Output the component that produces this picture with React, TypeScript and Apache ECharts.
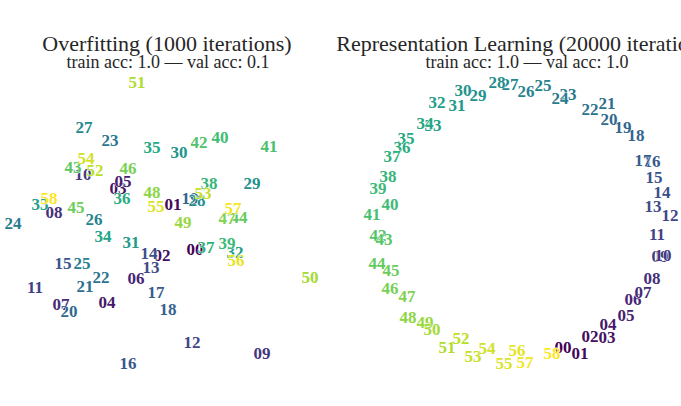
import React, { useEffect, useRef } from "react";
import * as echarts from "echarts";

// Left panel: overfitting embedding (label, x, y)
const leftLabels = ["00","01","02","03","04","05","06","07","08","09","10","11","12","13","14","15","16","17","18","19","20","21","22","23","24","25","26","27","28","29","30","31","32","33","34","35","36","37","38","39","40","41","42","43","44","45","46","47","48","49","50","51","52","53","54","55","56","57","58"];
const leftX = [195,173,162,118,107,123,136,61,54,262,83,35,192,151,149,63,128,156,168,190,69,85,101,110,13,82,94,84,197,252,179,131,235,40,103,152,122,206,209,227,220,269,199,73,239,76,128,227,152,183,310,137,95,203,86,156,236,233,49];
const leftY = [249,204,255,188,302,181,278,304,212,353,174,287,342,267,253,263,363,292,309,198,311,286,277,140,223,263,219,127,200,183,152,242,252,204,236,147,198,247,183,243,137,146,142,167,217,207,168,218,192,222,277,82,170,193,158,206,260,208,198];

// Right panel: representation learning embedding (label, x, y)
const rightX = [563,580,590,607,608,626,633,643,652,660,663,657,670,653,662,654,652,643,636,623,609,607,590,568,560,543,526,510,497,478,463,457,437,433,425,406,402,392,388,378,390,372,378,384,377,391,390,407,408,425,432,447,461,473,487,504,517,525,552];
const rightY = [347,353,336,337,324,315,299,292,278,256,255,234,215,206,192,177,161,160,135,127,119,103,109,94,98,85,91,84,82,95,90,105,102,125,123,138,147,156,176,188,204,214,235,239,263,270,288,296,317,322,329,347,338,356,348,363,350,362,353];

const titles = ["Overfitting (1000 iterations)", "Representation Learning (20000 iterations)"];
const subtitles = ["train acc: 1.0 \u2014 val acc: 0.1", "train acc: 1.0 \u2014 val acc: 1.0"];

const VIRIDIS = ["#440154","#482475","#414487","#355f8d","#2a788e","#21918c","#22a884","#44bf70","#7ad151","#bddf26","#fde725"];

function hex(c: string) {
  return [parseInt(c.slice(1, 3), 16), parseInt(c.slice(3, 5), 16), parseInt(c.slice(5, 7), 16)];
}
function viridis(t: number) {
  const p = Math.max(0, Math.min(1, t)) * (VIRIDIS.length - 1);
  const i = Math.min(Math.floor(p), VIRIDIS.length - 2);
  const f = p - i;
  const a = hex(VIRIDIS[i]);
  const b = hex(VIRIDIS[i + 1]);
  const r = a.map((v, k) => Math.round(v + (b[k] - v) * f));
  return `rgb(${r[0]},${r[1]},${r[2]})`;
}

function buildData(xs: number[], ys: number[]) {
  const n = leftLabels.length;
  return leftLabels.map((lab, i) => ({
    name: lab,
    value: [xs[i], ys[i]],
    label: { color: viridis(i / (n - 1)) },
  }));
}

export default function App() {
  const ref = useRef<HTMLDivElement>(null);
  useEffect(() => {
    if (!ref.current) return;
    const chart = echarts.init(ref.current, undefined, { renderer: "svg" });
    const labelStyle = {
      show: true,
      position: "inside",
      formatter: (p: any) => p.name,
      fontFamily: "Liberation Serif",
      fontWeight: "bold",
      fontSize: 17,
      opacity: 1,
      textBorderColor: "#ffffff",
      textBorderWidth: 0.8,
    };
    const axisCommon = { show: false, splitLine: { show: false } };
    chart.setOption({
      animation: false,
      backgroundColor: "#ffffff",
      grid: [
        { left: 0, top: 0, width: 340, height: 406 },
        { left: 340, top: 0, width: 341, height: 406 },
      ],
      xAxis: [
        { type: "value", gridIndex: 0, min: 0, max: 340, ...axisCommon },
        { type: "value", gridIndex: 1, min: 340, max: 681, ...axisCommon },
      ],
      yAxis: [
        { type: "value", gridIndex: 0, min: 0, max: 406, inverse: true, ...axisCommon },
        { type: "value", gridIndex: 1, min: 0, max: 406, inverse: true, ...axisCommon },
      ],
      graphic: [
        { type: "text", x: 167, y: 43, style: { text: titles[0], fill: "#262626", font: "22px 'Liberation Serif'", textAlign: "center", textVerticalAlign: "middle" } },
        { type: "text", x: 168, y: 62, style: { text: subtitles[0], fill: "#262626", font: "18px 'Liberation Serif'", textAlign: "center", textVerticalAlign: "middle" } },
        { type: "text", x: 526, y: 43, style: { text: titles[1], fill: "#262626", font: "22px 'Liberation Serif'", textAlign: "center", textVerticalAlign: "middle" } },
        { type: "text", x: 527, y: 62, style: { text: subtitles[1], fill: "#262626", font: "18px 'Liberation Serif'", textAlign: "center", textVerticalAlign: "middle" } },
      ],
      series: [
        { type: "scatter", xAxisIndex: 0, yAxisIndex: 0, symbolSize: 0, itemStyle: { opacity: 1 }, label: labelStyle, data: buildData(leftX, leftY), silent: true },
        { type: "scatter", xAxisIndex: 1, yAxisIndex: 1, symbolSize: 0, itemStyle: { opacity: 1 }, label: labelStyle, data: buildData(rightX, rightY), silent: true },
      ],
    });
    return () => chart.dispose();
  }, []);
  return <div ref={ref} style={{ position: "fixed", left: 0, top: 0, width: 681, height: 406 }} />;
}
